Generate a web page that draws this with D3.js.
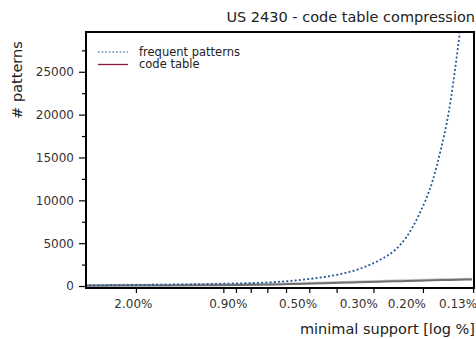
<!DOCTYPE html>
<html>
  <head>
    <meta charset="utf-8">
    <title>US 2430 - code table compression</title>
    <script src="https://cdn.jsdelivr.net/npm/d3@7"></script>
    <style>
      body { margin: 0; background: #fff; }
      #chart { display: block; width: 476px; height: 339px; font-family: "DejaVu Sans", sans-serif; }
      .axis text { font-size: 12px; fill: #333; font-family: "DejaVu Sans", sans-serif; }
      .axis line { stroke: #000; stroke-width: 1.2; }
      .axis path { display: none; }
      .label { font-size: 14.5px; fill: #222; }
      .legend text { font-size: 11.5px; fill: #222; }
    </style>
  </head>

  <body>
    <svg id="chart"></svg>

    <script>
      // data (minimal support in %)
      support = [3.0, 2.0, 1.5, 1.0, 0.8, 0.6, 0.5, 0.4, 0.35, 0.3, 0.25, 0.22, 0.2, 0.18, 0.16, 0.15, 0.14, 0.13, 0.12, 0.115];
      frequentPatterns = [70, 120, 170, 250, 320, 470, 680, 1050, 1380, 1950, 3050, 4200, 5700, 8300, 12400, 15800, 20300, 27500, 37000, 43000];
      codeTable = [30, 50, 70, 100, 130, 180, 240, 320, 370, 430, 500, 550, 590, 630, 670, 690, 710, 730, 750, 765];

      // axis ticks
      xLabelValues = [2.00, 0.90, 0.50, 0.30, 0.20, 0.13];
      xLabels = ["2.00%", "0.90%", "0.50%", "0.30%", "0.20%", "0.13%"];
      xMinorTicks = [1.95, 0.934, 0.840, 0.742, 0.645, 0.551, 0.453, 0.360, 0.264, 0.174, 0.114];
      yMajorTicks = [0, 5000, 10000, 15000, 20000, 25000];
      yMinorTicks = [2500, 7500, 12500, 17500, 22500, 27500];

      series = [
        { name: "frequent patterns", values: frequentPatterns },
        { name: "code table", values: codeTable }
      ];

      chart = d3.select("#chart");
      margin = { top: 32, right: 2, bottom: 51, left: 86 };
      width = 476;
      height = 339;

      x = d3.scaleLog()
        .domain([2.969, 0.1132])
        .range([margin.left, width - margin.right]);
      y = d3.scaleLinear()
        .domain([-230, 29640])
        .range([height - margin.bottom, margin.top]);

      chart.append("defs")
        .append("clipPath")
          .attr("id", "clip")
        .append("rect")
          .attr("x", margin.left)
          .attr("y", margin.top)
          .attr("width", width - margin.left - margin.right)
          .attr("height", height - margin.top - margin.bottom);

      // axes
      chart.append("g")
        .classed("axis", true)
        .attr("transform", "translate(0, " + (height - margin.bottom + 1) + ")")
        .call(d3.axisBottom(x).tickValues(xMinorTicks).tickFormat("").tickSize(4));

      chart.append("g")
        .classed("axis", true)
        .attr("transform", "translate(0, " + (height - margin.bottom) + ")")
        .call(d3.axisBottom(x)
          .tickValues(xLabelValues)
          .tickFormat((d, i) => xLabels[i])
          .tickSize(0)
          .tickPadding(11));

      chart.append("g")
        .classed("axis", true)
        .attr("transform", "translate(" + (margin.left - 1) + ", 0)")
        .call(d3.axisLeft(y).tickValues(yMajorTicks).tickFormat(d3.format("d")).tickSize(6).tickPadding(5));

      chart.append("g")
        .classed("axis", true)
        .attr("transform", "translate(" + (margin.left - 1) + ", 0)")
        .call(d3.axisLeft(y).tickValues(yMinorTicks).tickFormat("").tickSize(3));

      // lines
      line = d3.line()
        .x((d, i) => x(support[i]))
        .y(d => y(d))
        .curve(d3.curveMonotoneX);

      plot = chart.append("g")
        .attr("clip-path", "url(#clip)");

      plot.append("path")
        .attr("d", line(codeTable))
        .attr("transform", "translate(0, -1.2)")
        .attr("fill", "none")
        .attr("stroke", "#c8c8c8")
        .attr("stroke-width", 1.2);

      plot.append("path")
        .attr("d", line(codeTable))
        .attr("fill", "none")
        .attr("stroke", "#6e6e6e")
        .attr("stroke-width", 2);

      plot.append("path")
        .attr("d", line(frequentPatterns))
        .attr("fill", "none")
        .attr("stroke", "#28599a")
        .attr("stroke-width", 1.8)
        .attr("stroke-dasharray", "2,2.2");

      // frame
      chart.append("rect")
        .attr("x", margin.left)
        .attr("y", margin.top)
        .attr("width", width - margin.left - margin.right)
        .attr("height", height - margin.top - margin.bottom)
        .attr("fill", "none")
        .attr("stroke", "#000")
        .attr("stroke-width", 2);

      // legend
      legend = chart.append("g")
        .classed("legend", true)
        .attr("transform", "translate(98, 52)");

      legendItems = legend.selectAll("g")
          .data(series)
        .enter().append("g")
          .attr("transform", (d, i) => "translate(0, " + i * 12.5 + ")");

      legendItems.append("line")
        .attr("x1", 0)
        .attr("x2", 30)
        .attr("stroke", (d, i) => i == 0 ? "#5f86ba" : "#8c1448")
        .attr("stroke-width", (d, i) => i == 0 ? 1.6 : 1.3)
        .attr("stroke-dasharray", (d, i) => i == 0 ? "1.6,2" : null);

      legendItems.append("text")
        .attr("x", 41)
        .attr("y", 3.5)
        .text(d => d.name);

      // titles
      chart.append("text")
        .classed("label", true)
        .attr("x", 475)
        .attr("y", 22)
        .attr("text-anchor", "end")
        .text("US 2430 - code table compression");

      chart.append("text")
        .classed("label", true)
        .attr("x", 475)
        .attr("y", 334)
        .attr("text-anchor", "end")
        .text("minimal support [log %]");

      chart.append("text")
        .classed("label", true)
        .attr("transform", "translate(22, 80) rotate(-90)")
        .attr("text-anchor", "middle")
        .text("# patterns");
    </script>
  </body>
</html>
